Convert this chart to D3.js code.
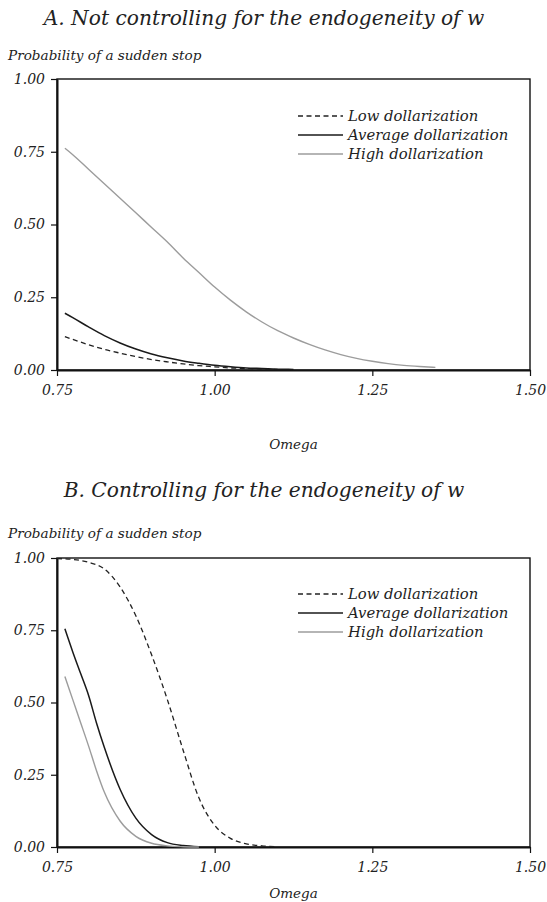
<!DOCTYPE html>
<html>
<head>
<meta charset="utf-8">
<script src="https://cdn.jsdelivr.net/npm/d3@7"></script>
<style>
  body { margin: 0; background: #fff; }
  svg text { font-family: 'DejaVu Serif', serif; font-style: italic; fill: #222; }
</style>
</head>
<body>
<svg id="chart" width="547" height="902"></svg>
<script>
const omegaTicks = [0.75, 1.00, 1.25, 1.50];
const probTicks = [0, 0.25, 0.50, 0.75, 1.00];
const seriesNames = ["Low dollarization", "Average dollarization", "High dollarization"];
const panelTitles = ["A. Not controlling for the endogeneity of w", "B. Controlling for the endogeneity of w"];

// panel A
const omegaA_low = [0.7625, 0.775, 0.80, 0.825, 0.85, 0.875, 0.90, 0.925, 0.95, 0.975, 1.00, 1.025, 1.05, 1.075, 1.10];
const probA_low  = [0.115, 0.105, 0.087, 0.071, 0.058, 0.046, 0.036, 0.028, 0.021, 0.015, 0.011, 0.007, 0.005, 0.003, 0.002];
const omegaA_avg = [0.7625, 0.775, 0.80, 0.825, 0.85, 0.875, 0.90, 0.925, 0.95, 0.975, 1.00, 1.025, 1.05, 1.075, 1.10, 1.125];
const probA_avg  = [0.195, 0.18, 0.148, 0.118, 0.093, 0.072, 0.055, 0.042, 0.031, 0.023, 0.016, 0.011, 0.007, 0.005, 0.003, 0.002];
const omegaA_high = [0.7625, 0.775, 0.80, 0.825, 0.85, 0.875, 0.90, 0.925, 0.95, 0.975, 1.00, 1.025, 1.05, 1.075, 1.10, 1.125, 1.15, 1.175, 1.20, 1.225, 1.25, 1.275, 1.30, 1.325, 1.35];
const probA_high  = [0.762, 0.74, 0.69, 0.64, 0.59, 0.54, 0.49, 0.44, 0.385, 0.335, 0.285, 0.24, 0.20, 0.165, 0.135, 0.11, 0.088, 0.069, 0.053, 0.040, 0.030, 0.022, 0.016, 0.012, 0.009];

// panel B
const omegaB_low = [0.75, 0.775, 0.80, 0.825, 0.85, 0.875, 0.90, 0.925, 0.95, 0.975, 1.00, 1.025, 1.05, 1.075, 1.10];
const probB_low  = [0.998, 0.995, 0.985, 0.962, 0.90, 0.80, 0.665, 0.51, 0.335, 0.17, 0.075, 0.03, 0.011, 0.004, 0.001];
const omegaB_avg = [0.7625, 0.775, 0.7875, 0.80, 0.8125, 0.825, 0.85, 0.875, 0.90, 0.925, 0.95, 0.975];
const probB_avg  = [0.755, 0.675, 0.60, 0.525, 0.43, 0.345, 0.20, 0.10, 0.043, 0.015, 0.005, 0.001];
const omegaB_high = [0.7625, 0.775, 0.7875, 0.80, 0.8125, 0.825, 0.85, 0.875, 0.90, 0.925, 0.95, 0.975];
const probB_high  = [0.59, 0.51, 0.43, 0.35, 0.265, 0.19, 0.09, 0.037, 0.013, 0.004, 0.001, 0.0];

const styles = [
  { color: "#222", width: 1.3, dash: "5,3.5" },
  { color: "#1a1a1a", width: 1.5, dash: null },
  { color: "#9c9c9c", width: 1.4, dash: null }
];

const svg = d3.select("#chart");
const plotLeft = 57, plotRight = 530;

const panels = [
  { title: panelTitles[0], top: 79, bottom: 370, titleY: 25, yLabelY: 60, omegaY: 449, legendY: 116,
    series: [[omegaA_low, probA_low], [omegaA_avg, probA_avg], [omegaA_high, probA_high]] },
  { title: panelTitles[1], top: 558, bottom: 847, titleY: 497, yLabelY: 538, omegaY: 898, legendY: 594,
    series: [[omegaB_low, probB_low], [omegaB_avg, probB_avg], [omegaB_high, probB_high]] }
];

panels.forEach(p => {
  const g = svg.append("g");
  const x = d3.scaleLinear().domain([0.75, 1.50]).range([plotLeft, plotRight]);
  const y = d3.scaleLinear().domain([0, 1]).range([p.bottom, p.top]);

  g.append("text")
    .attr("x", 264).attr("y", p.titleY)
    .attr("text-anchor", "middle")
    .style("font-size", "20.2px")
    .text(p.title);

  g.append("text")
    .attr("x", 8).attr("y", p.yLabelY)
    .style("font-size", "13.6px")
    .text("Probability of a sudden stop");

  // frame
  g.append("rect")
    .attr("x", plotLeft).attr("y", p.top)
    .attr("width", plotRight - plotLeft).attr("height", p.bottom - p.top)
    .attr("fill", "none").attr("stroke", "#111").attr("stroke-width", 1.4);

  const xAxis = g.append("g")
    .attr("transform", `translate(0,${p.bottom})`)
    .call(d3.axisBottom(x).tickValues(omegaTicks).tickFormat(d3.format(".2f")).tickSize(6).tickSizeOuter(0).tickPadding(9));
  const yAxis = g.append("g")
    .attr("transform", `translate(${plotLeft},0)`)
    .call(d3.axisLeft(y).tickValues(probTicks).tickFormat(d3.format(".2f")).tickSize(6).tickSizeOuter(0).tickPadding(6));

  [xAxis, yAxis].forEach(a => {
    a.attr("font-family", null);
    a.select(".domain").attr("stroke", "#111").attr("stroke-width", 2);
    a.selectAll(".tick line").attr("stroke", "#111").attr("stroke-width", 1.2);
    a.selectAll(".tick text")
      .style("font-family", "'DejaVu Serif', serif").style("font-style", "italic")
      .style("font-size", "14px").attr("fill", "#222");
  });

  g.append("text")
    .attr("x", (plotLeft + plotRight) / 2).attr("y", p.omegaY)
    .attr("text-anchor", "middle")
    .style("font-size", "13.5px")
    .text("Omega");

  const line = d3.line()
    .x(d => x(d[0]))
    .y(d => y(d[1]))
    .curve(d3.curveMonotoneX);

  p.series.forEach((s, i) => {
    const pts = s[0].map((o, k) => [o, s[1][k]]);
    g.append("path")
      .datum(pts)
      .attr("d", line)
      .attr("fill", "none")
      .attr("stroke", styles[i].color)
      .attr("stroke-width", styles[i].width)
      .attr("stroke-dasharray", styles[i].dash);
  });

  // legend
  seriesNames.forEach((name, i) => {
    const ly = p.legendY + i * 19;
    g.append("line")
      .attr("x1", 298).attr("x2", 343).attr("y1", ly).attr("y2", ly)
      .attr("stroke", styles[i].color)
      .attr("stroke-width", styles[i].width)
      .attr("stroke-dasharray", styles[i].dash);
    g.append("text")
      .attr("x", 348).attr("y", ly + 4.5)
      .style("font-size", "14.8px")
      .text(name);
  });
});
</script>
</body>
</html>
